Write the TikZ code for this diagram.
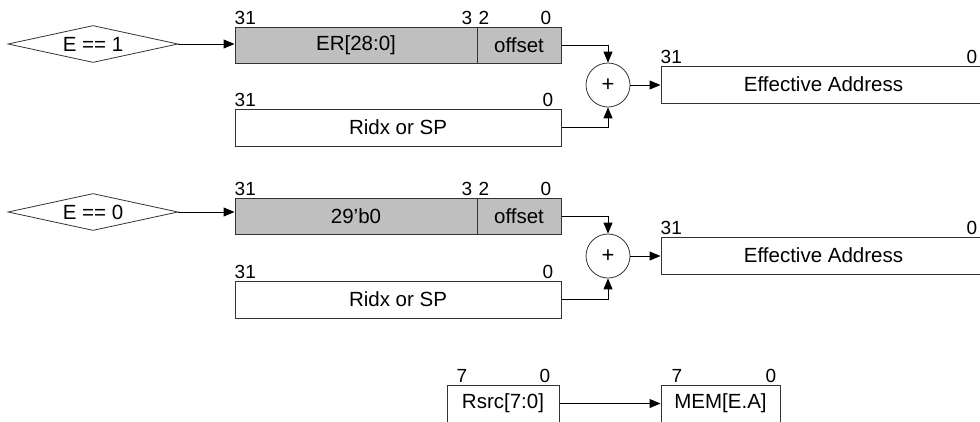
\documentclass[tikz,border=0pt]{standalone}
\usepackage{fontspec}
\setmainfont{Liberation Sans}
\usetikzlibrary{shapes.geometric, arrows.meta, positioning}

\begin{document}
\begin{tikzpicture}[
    x=1pt, y=-1pt,
    reg/.style={draw=black!80, line width=1pt, rectangle, inner sep=0pt, minimum height=37pt, font=\fontsize{20.5}{24}\selectfont},
    greyreg/.style={reg, fill=black!25, minimum height=36pt},
    cond/.style={draw=black!80, line width=0.8pt, diamond, aspect=4.7, inner sep=0pt, minimum width=170pt, minimum height=37pt, font=\fontsize{20.5}{24}\selectfont},
    adder/.style={draw=black!80, line width=0.8pt, circle, minimum size=44pt, inner sep=0pt, font=\fontsize{22}{24}\selectfont},
    bit/.style={inner sep=0pt, font=\fontsize{19}{22}\selectfont},
    arrow/.style={-{Triangle[length=11pt, width=9pt]}, line width=1pt}
]
\clip (0,0) rectangle (980,421);

% E == 1
\node[cond] (c1) at (93,44) {E == 1};
\node[greyreg, minimum width=242pt] (er1) at (356,45) {ER[28:0]};
\node[greyreg, minimum width=84pt] (off1) at (519,45) {offset};
\node[reg, minimum width=326pt] (ridx1) at (398,127.5) {Ridx or SP};
\node[adder] (sum1) at (608,85) {+};
\node[reg, minimum width=325pt] (ea1) at (823.5,84.5) {Effective Address};

\node[bit, anchor=south west] (er1hi) at ([yshift=2pt]er1.north west) {31};
\node[bit, anchor=south east] (er1lo) at ([xshift=-5pt, yshift=2pt]er1.north east) {3};
\node[bit, anchor=south west] (off1hi) at ([xshift=2pt, yshift=2pt]off1.north west) {2};
\node[bit, anchor=south east] (off1lo) at ([xshift=-10pt, yshift=2pt]off1.north east) {0};
\node[bit, anchor=south west] (ridx1hi) at ([yshift=2pt]ridx1.north west) {31};
\node[bit, anchor=south east] (ridx1lo) at ([xshift=-8pt, yshift=2pt]ridx1.north east) {0};
\node[bit, anchor=south west] (ea1hi) at ([yshift=2pt]ea1.north west) {31};
\node[bit, anchor=south east] (ea1lo) at ([xshift=-9pt, yshift=2pt]ea1.north east) {0};

\draw[arrow] (c1.east) -- (c1.east -| er1.west);
\draw[arrow] (off1.east) -| (sum1.north);
\draw[arrow] (ridx1.east) -| (sum1.south);
\draw[arrow] (sum1.east) -- (sum1.east -| ea1.west);

% E == 0
\node[cond] (c2) at (93,212) {E == 0};
\node[greyreg, minimum width=242pt] (er2) at (356,216) {29'b0};
\node[greyreg, minimum width=84pt] (off2) at (519,216) {offset};
\node[reg, minimum width=326pt] (ridx2) at (398,299.5) {Ridx or SP};
\node[adder] (sum2) at (608,256) {+};
\node[reg, minimum width=325pt] (ea2) at (823.5,255.5) {Effective Address};

\node[bit, anchor=south west] (er2hi) at ([yshift=2pt]er2.north west) {31};
\node[bit, anchor=south east] (er2lo) at ([xshift=-5pt, yshift=2pt]er2.north east) {3};
\node[bit, anchor=south west] (off2hi) at ([xshift=2pt, yshift=2pt]off2.north west) {2};
\node[bit, anchor=south east] (off2lo) at ([xshift=-10pt, yshift=2pt]off2.north east) {0};
\node[bit, anchor=south west] (ridx2hi) at ([yshift=2pt]ridx2.north west) {31};
\node[bit, anchor=south east] (ridx2lo) at ([xshift=-8pt, yshift=2pt]ridx2.north east) {0};
\node[bit, anchor=south west] (ea2hi) at ([yshift=2pt]ea2.north west) {31};
\node[bit, anchor=south east] (ea2lo) at ([xshift=-9pt, yshift=2pt]ea2.north east) {0};

\draw[arrow] (c2.east) -- (c2.east -| er2.west);
\draw[arrow] (off2.east) -| (sum2.north);
\draw[arrow] (ridx2.east) -| (sum2.south);
\draw[arrow] (sum2.east) -- (sum2.east -| ea2.west);

% byte store
\node[reg, minimum width=112pt] (rsrc) at (503,403.5) {Rsrc[7:0]};
\node[reg, minimum width=119pt] (mem) at (720.5,403.5) {MEM[E.A]};

\node[bit, anchor=south west] (rsrchi) at ([xshift=10pt, yshift=2pt]rsrc.north west) {7};
\node[bit, anchor=south east] (rsrclo) at ([xshift=-9pt, yshift=2pt]rsrc.north east) {0};
\node[bit, anchor=south west] (memhi) at ([xshift=11pt, yshift=2pt]mem.north west) {7};
\node[bit, anchor=south east] (memlo) at ([xshift=-4pt, yshift=2pt]mem.north east) {0};

\draw[arrow] (rsrc.east) -- (mem.west);

\end{tikzpicture}
\end{document}
